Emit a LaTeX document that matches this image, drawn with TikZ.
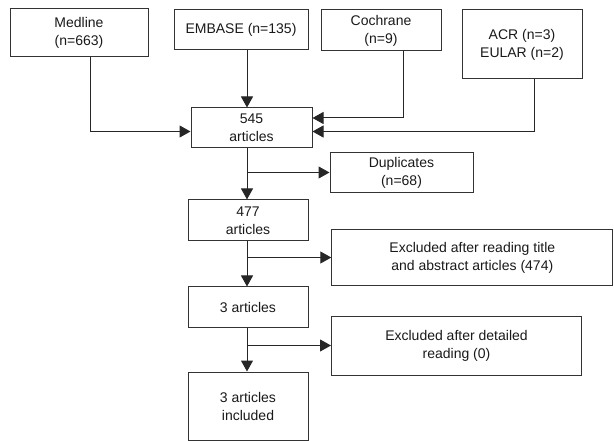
\documentclass[tikz,border=0pt]{standalone}
\usepackage{fontspec}
\setmainfont{Liberation Sans}
\usetikzlibrary{arrows.meta, positioning}

\begin{document}
\begin{tikzpicture}[
    x=1pt, y=-1pt,
    box/.style={rectangle, draw=black!80, line width=1pt, align=center, inner sep=0pt, text=black!90, font=\fontsize{14}{18}\selectfont},
    arrow/.style={-{Triangle[length=11pt, width=12pt]}, line width=1pt, draw=black!85}
]
\useasboundingbox (0,0) rectangle (614,441);
\coordinate (spine) at (247,0);

\node[box, minimum width=138pt, minimum height=48pt] (medline) at (79,33) {Medline\\(n=663)};
\node[box, minimum width=134pt, minimum height=40pt] (embase) at (241,30) {EMBASE (n=135)};
\node[box, minimum width=120pt, minimum height=41pt] (cochrane) at (381,30.5) {Cochrane\\(n=9)};
\node[box, minimum width=120pt, minimum height=69pt] (acr) at (522,44.5) {ACR (n=3)\\EULAR (n=2)};
\node[box, minimum width=121pt, minimum height=40pt] (pool) at (251.5,128) {545\\articles};
\node[box, minimum width=143pt, minimum height=40.5pt] (dups) at (401.5,172.5) {Duplicates\\(n=68)};
\node[box, minimum width=120pt, minimum height=40.7pt] (dedup) at (248,220.3) {477\\articles};
\node[box, minimum width=281pt, minimum height=56pt] (screenout) at (472.3,257.5) {Excluded after reading title\\and abstract articles (474)};
\node[box, minimum width=120pt, minimum height=40pt] (screened) at (248,307) {3 articles};
\node[box, minimum width=250pt, minimum height=59pt] (fullout) at (456.5,345.5) {Excluded after detailed\\reading (0)};
\node[box, minimum width=120pt, minimum height=68pt] (included) at (248,406) {3 articles\\included};

\draw[arrow] ([xshift=11pt]medline.south) |- ([yshift=-3.5pt]pool.west);
\draw[arrow] (embase.south -| spine) -- (pool.north -| spine);
\draw[arrow] ([xshift=22pt]cochrane.south) |- ([yshift=10pt]pool.east);
\draw[arrow] ([xshift=12pt]acr.south) |- ([yshift=-3.5pt]pool.east);
\draw[arrow] (pool.south -| spine) -- (dedup.north -| spine);
\draw[arrow] (dups.west -| spine) -- (dups.west);
\draw[arrow] (dedup.south -| spine) -- (screened.north -| spine);
\draw[arrow] (screenout.west -| spine) -- (screenout.west);
\draw[arrow] (screened.south -| spine) -- (included.north -| spine);
\draw[arrow] (fullout.west -| spine) -- (fullout.west);
\end{tikzpicture}
\end{document}
